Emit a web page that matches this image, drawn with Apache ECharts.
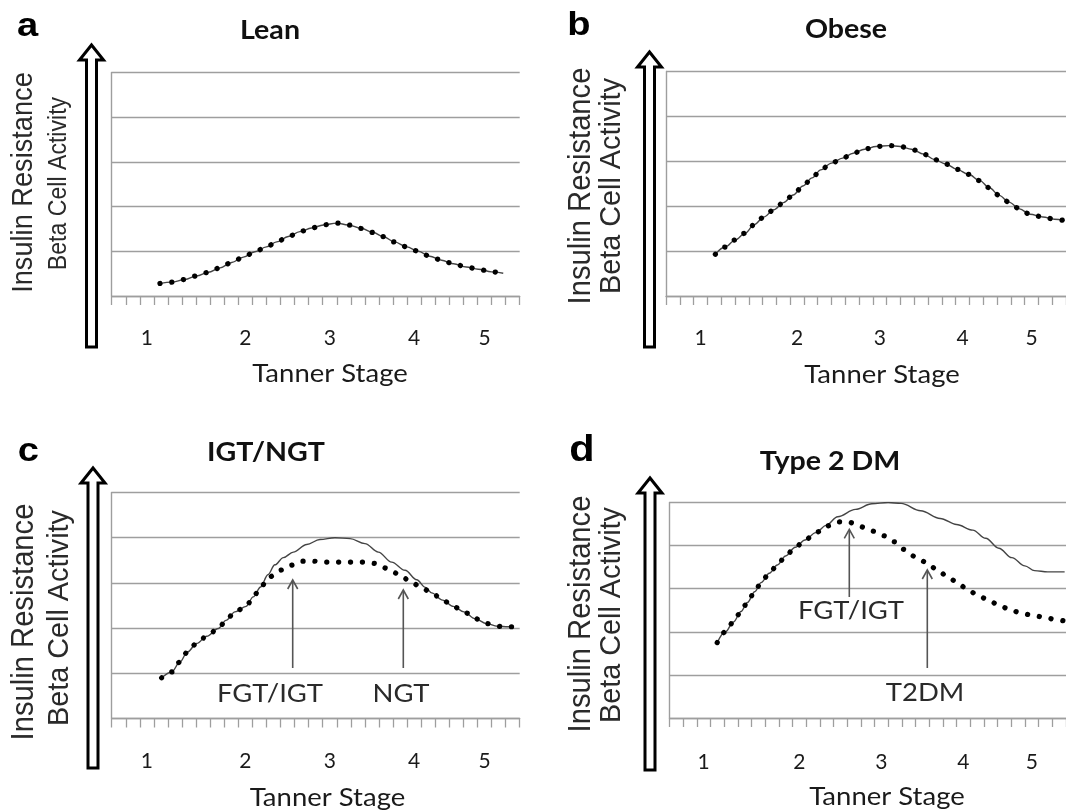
<!DOCTYPE html>
<html>
<head>
<meta charset="utf-8">
<script src="https://cdn.jsdelivr.net/npm/echarts@6/dist/echarts.min.js"></script>
<style>
html,body{margin:0;padding:0;background:#ffffff;}
#chart{width:1066px;height:810px;}
</style>
</head>
<body>
<div id="chart"></div>
<script>
// ---------- data ----------
// x axis: 29 category bands (Tanner stage scale), labels on a few of them
const tickLabels = ['', '', '1', '', '', '', '', '', '', '2', '', '', '', '', '', '3', '', '', '', '', '', '4', '', '', '', '', '5', '', ''];

// curve positions are given in band units along the x axis (0 .. 29), values in gridline units (0 .. 5)
// (a) Lean
const leanPos = [3.43, 4.26, 5.21, 6.04, 6.87, 7.7, 8.53, 9.36, 10.18, 11.0, 11.73, 12.55, 13.38, 14.2, 15.04, 15.99, 16.8, 17.77, 18.6, 19.3, 20.1, 20.97, 21.8, 22.6, 23.45, 24.3, 25.2, 26.05, 27.0, 27.83];
const leanVal = [0.28, 0.31, 0.37, 0.45, 0.53, 0.63, 0.75, 0.87, 0.99, 1.10, 1.21, 1.33, 1.44, 1.52, 1.59, 1.63, 1.59, 1.51, 1.42, 1.33, 1.21, 1.10, 1.00, 0.89, 0.80, 0.72, 0.65, 0.60, 0.54, 0.51];

// (b) Obese
const obesePos = [3.58, 4.28, 5.03, 5.74, 6.4, 7.1, 7.81, 8.52, 9.22, 9.93, 10.59, 11.22, 12.0, 12.8, 13.57, 14.4, 15.22, 16.16, 16.99, 17.8, 18.68, 19.46, 20.28, 21.1, 21.93, 22.75, 23.45, 24.16, 24.86, 25.64, 26.39, 27.33, 28.16, 28.9];
const obeseVal = [0.93, 1.09, 1.25, 1.40, 1.59, 1.76, 1.92, 2.08, 2.25, 2.45, 2.63, 2.81, 2.96, 3.07, 3.18, 3.27, 3.33, 3.35, 3.33, 3.27, 3.16, 3.04, 2.94, 2.82, 2.71, 2.57, 2.41, 2.24, 2.09, 1.94, 1.82, 1.76, 1.71, 1.68];

// (c) IGT/NGT  - dotted: FGT/IGT, solid: NGT
const igtPos = [3.55, 4.26, 4.85, 5.38, 6.04, 6.75, 7.58, 8.12, 8.76, 9.55, 10.06, 10.59, 11.2, 11.96, 12.72, 13.5, 14.33, 15.28, 16.18, 17.06, 17.93, 18.78, 19.59, 20.44, 21.2, 21.96, 22.74, 23.52, 24.28, 25.04, 25.82, 26.65, 27.41, 28.19, 28.5];
const igtVal = [0.90, 1.03, 1.25, 1.47, 1.66, 1.82, 1.99, 2.17, 2.36, 2.48, 2.69, 2.91, 3.13, 3.28, 3.39, 3.48, 3.48, 3.46, 3.46, 3.46, 3.46, 3.43, 3.32, 3.19, 3.04, 2.91, 2.78, 2.62, 2.48, 2.36, 2.21, 2.10, 2.04, 2.03, 2.03];
const ngtPos = [3.55, 4.26, 4.85, 5.38, 6.04, 6.75, 7.58, 8.12, 8.76, 9.55, 10.06, 10.59, 11.1, 11.6, 12.2, 12.91, 13.86, 14.8, 15.87, 16.94, 18.0, 18.95, 19.9, 20.85, 21.68, 22.3, 22.74, 23.52, 24.28, 25.04, 25.82, 26.65, 27.41, 28.19, 28.5];
const ngtVal = [0.90, 1.03, 1.25, 1.47, 1.66, 1.82, 1.99, 2.17, 2.36, 2.48, 2.69, 2.91, 3.18, 3.40, 3.56, 3.68, 3.85, 3.96, 4.00, 3.98, 3.87, 3.68, 3.46, 3.28, 3.07, 2.90, 2.78, 2.62, 2.48, 2.36, 2.21, 2.10, 2.04, 2.03, 2.03];

// (d) Type 2 DM - dotted: FGT/IGT -> T2DM, solid: reference curve
const t2dmPos = [3.49, 4.09, 4.68, 5.23, 5.7, 6.23, 6.7, 7.3, 7.89, 8.49, 9.2, 9.91, 10.7, 11.46, 12.3, 13.13, 13.96, 14.8, 15.63, 16.41, 17.18, 17.94, 18.73, 19.51, 20.27, 20.99, 21.7, 22.46, 23.25, 24.09, 24.91, 25.75, 26.7, 27.54, 28.25, 28.9];
const t2dmVal = [1.75, 2.00, 2.23, 2.47, 2.68, 2.93, 3.14, 3.36, 3.55, 3.76, 3.96, 4.13, 4.30, 4.45, 4.55, 4.54, 4.44, 4.34, 4.23, 4.09, 3.91, 3.75, 3.62, 3.46, 3.30, 3.16, 3.01, 2.87, 2.75, 2.62, 2.51, 2.43, 2.37, 2.33, 2.28, 2.25];
const normPos = [3.49, 4.09, 4.68, 5.23, 5.7, 6.23, 6.7, 7.3, 7.89, 8.49, 9.2, 9.91, 10.7, 11.46, 12.3, 13.6, 14.8, 15.99, 16.94, 18.37, 19.8, 20.99, 22.18, 23.13, 24.09, 25.04, 25.99, 26.7, 27.66, 28.9];
const normVal = [1.75, 2.00, 2.23, 2.47, 2.68, 2.93, 3.14, 3.36, 3.55, 3.76, 3.96, 4.13, 4.30, 4.47, 4.67, 4.84, 4.97, 5.00, 4.98, 4.81, 4.63, 4.49, 4.36, 4.17, 3.94, 3.72, 3.53, 3.42, 3.39, 3.39];

// ---------- helpers ----------
function pairs(p, v) { return p.map((x, i) => [x, v[i]]); }
const GRID_C = '#9e9e9e';
const SANS = '"Liberation Sans", Arial, sans-serif';
const CAL = 'Lato, "Open Sans", sans-serif';

const gridDefs = [
  { left: 111.7, right: 546.3, top: 72.5, bottom: 514 },
  { left: 666, right: -11, top: 71.5, bottom: 514 },
  { left: 111.7, right: 546.3, top: 492.5, bottom: 91.5 },
  { left: 669.5, right: -9.5, top: 502.5, bottom: 92 }
];
const labelMargins = [31.5, 31.5, 32.5, 33.5];

const xAxes = [];
const yAxes = [];
gridDefs.forEach((g, i) => {
  xAxes.push({
    type: 'category', gridIndex: i,
    data: tickLabels.map((_, k) => 'b' + k),
    boundaryGap: true,
    axisLine: { show: true, lineStyle: { color: GRID_C, width: 1.4 } },
    axisTick: { show: true, interval: 0, length: 9, lineStyle: { color: GRID_C, width: 1.3 } },
    axisLabel: {
      interval: 0, margin: labelMargins[i],
      formatter: (v, idx) => tickLabels[idx],
      color: '#1a1a1a', fontFamily: CAL, fontSize: 21
    },
    splitLine: { show: false }
  });
  yAxes.push({
    type: 'value', gridIndex: i, min: 0, max: 5, interval: 1,
    axisLine: { show: true, lineStyle: { color: GRID_C, width: 1.4 } },
    axisTick: { show: false }, axisLabel: { show: false },
    splitLine: { show: true, lineStyle: { color: GRID_C, width: 1.4 } }
  });
});
gridDefs.forEach((g, i) => {
  xAxes.push({ type: 'value', gridIndex: i, min: 0, max: 29, show: false });
});

function solid(i, p, v) {
  return {
    type: 'line', xAxisIndex: 4 + i, yAxisIndex: i, data: pairs(p, v),
    smooth: 0.35, smoothMonotone: 'x', symbol: 'none', silent: true,
    lineStyle: { color: '#444', width: 1.4 }, z: 3
  };
}
function dotted(i, p, v) {
  return {
    type: 'line', xAxisIndex: 4 + i, yAxisIndex: i, data: pairs(p, v),
    smooth: 0.35, smoothMonotone: 'x', symbol: 'none', silent: true,
    lineStyle: { color: '#000', width: 5.2, type: [0.1, 11.8], cap: 'round' }, z: 4
  };
}

// ---------- decorations ----------
function txt(x, y, text, size, family, weight, opts) {
  opts = opts || {};
  return {
    type: 'text', x: x, y: y, rotation: opts.rot || 0,
    scaleX: opts.sx || 1, scaleY: opts.sy || 1, silent: true, z: 10,
    style: {
      text: text, fontSize: size, fontFamily: family, fontWeight: weight || 'normal',
      fill: opts.color || '#1a1a1a', align: 'center', verticalAlign: 'middle'
    }
  };
}
function bigArrow(cx, tip, bottom) {
  const sw = 5, hw = 12, hh = 15;
  return {
    type: 'polygon', silent: true, z: 10,
    shape: { points: [[cx - sw, bottom], [cx - sw, tip + hh], [cx - hw, tip + hh], [cx, tip], [cx + hw, tip + hh], [cx + sw, tip + hh], [cx + sw, bottom]] },
    style: { fill: '#fff', stroke: '#000', lineWidth: 3, lineJoin: 'miter' }
  };
}
function thinArrow(x, from, tip) {
  return [
    { type: 'line', silent: true, z: 9, shape: { x1: x, y1: from, x2: x, y2: tip + 1 }, style: { stroke: '#555', lineWidth: 1.6 } },
    { type: 'polyline', silent: true, z: 9, shape: { points: [[x - 5, tip + 9], [x, tip], [x + 5, tip + 9]] }, style: { stroke: '#555', lineWidth: 1.6, fill: null } }
  ];
}
const R = Math.PI / 2;
const graphics = [
  // panel letters
  txt(27.5, 26.5, 'a', 34, SANS, 'bold', { sx: 1.12, color: '#000' }),
  txt(579, 25.2, 'b', 34, SANS, 'bold', { sx: 1.12, color: '#000' }),
  txt(28.3, 451.5, 'c', 34, SANS, 'bold', { sx: 1.12, color: '#000' }),
  txt(582, 450.5, 'd', 37, SANS, 'bold', { sx: 1.12, color: '#000' }),
  // titles
  txt(270, 31, 'Lean', 26, CAL, 'bold', { sx: 1.1, color: '#111' }),
  txt(846, 30, 'Obese', 26, CAL, 'bold', { sx: 1.1, color: '#111' }),
  txt(266, 453, 'IGT/NGT', 26, CAL, 'bold', { sx: 1.1, color: '#111' }),
  txt(830, 462, 'Type 2 DM', 26, CAL, 'bold', { sx: 1.1, color: '#111' }),
  // y axis titles
  txt(23.5, 182.5, 'Insulin Resistance', 27.2, SANS, 'normal', { rot: R, sy: 1.1, color: '#2a2a2a' }),
  txt(59, 183.5, 'Beta Cell Activity', 23.1, SANS, 'normal', { rot: R, sy: 1.1, color: '#2a2a2a' }),
  txt(582, 186, 'Insulin Resistance', 29.2, SANS, 'normal', { rot: R, sy: 1.05, color: '#2a2a2a' }),
  txt(612, 186, 'Beta Cell Activity', 28.8, SANS, 'normal', { rot: R, sy: 1.0, color: '#2a2a2a' }),
  txt(25, 622, 'Insulin Resistance', 29.2, SANS, 'normal', { rot: R, sy: 1.05, color: '#2a2a2a' }),
  txt(60, 618, 'Beta Cell Activity', 28.8, SANS, 'normal', { rot: R, sy: 1.0, color: '#2a2a2a' }),
  txt(582, 614, 'Insulin Resistance', 29.2, SANS, 'normal', { rot: R, sy: 1.05, color: '#2a2a2a' }),
  txt(612, 615, 'Beta Cell Activity', 28.8, SANS, 'normal', { rot: R, sy: 1.0, color: '#2a2a2a' }),
  // x axis titles
  txt(330, 374, 'Tanner Stage', 25, CAL, 'normal', { sx: 1.1, color: '#1a1a1a' }),
  txt(882, 375, 'Tanner Stage', 25, CAL, 'normal', { sx: 1.1, color: '#1a1a1a' }),
  txt(327.5, 797.5, 'Tanner Stage', 25, CAL, 'normal', { sx: 1.1, color: '#1a1a1a' }),
  txt(887, 797, 'Tanner Stage', 25, CAL, 'normal', { sx: 1.1, color: '#1a1a1a' }),
  // hollow axis arrows
  bigArrow(91.5, 45, 347),
  bigArrow(649.5, 52, 347),
  bigArrow(93, 468, 768),
  bigArrow(650, 478, 770),
  // annotations
  txt(270, 694, 'FGT/IGT', 24.5, CAL, 'normal', { sx: 1.12, color: '#2a2a2a' }),
  txt(401, 694, 'NGT', 24.5, CAL, 'normal', { sx: 1.12, color: '#2a2a2a' }),
  txt(851, 611, 'FGT/IGT', 24.5, CAL, 'normal', { sx: 1.12, color: '#2a2a2a' }),
  txt(925, 693, 'T2DM', 24.5, CAL, 'normal', { sx: 1.12, color: '#2a2a2a' })
].concat(thinArrow(292.7, 668, 580), thinArrow(403.3, 668, 590), thinArrow(849.3, 597, 529.3), thinArrow(927.3, 668, 570));

const chart = echarts.init(document.getElementById('chart'), null, { renderer: 'canvas' });
chart.setOption({
  backgroundColor: '#ffffff',
  animation: false,
  grid: gridDefs.map(g => Object.assign({ containLabel: false }, g)),
  xAxis: xAxes,
  yAxis: yAxes,
  series: [
    solid(0, leanPos, leanVal), dotted(0, leanPos, leanVal),
    solid(1, obesePos, obeseVal), dotted(1, obesePos, obeseVal),
    solid(2, ngtPos, ngtVal), dotted(2, igtPos, igtVal),
    solid(3, normPos, normVal), dotted(3, t2dmPos, t2dmVal)
  ],
  graphic: graphics
});
</script>
</body>
</html>
